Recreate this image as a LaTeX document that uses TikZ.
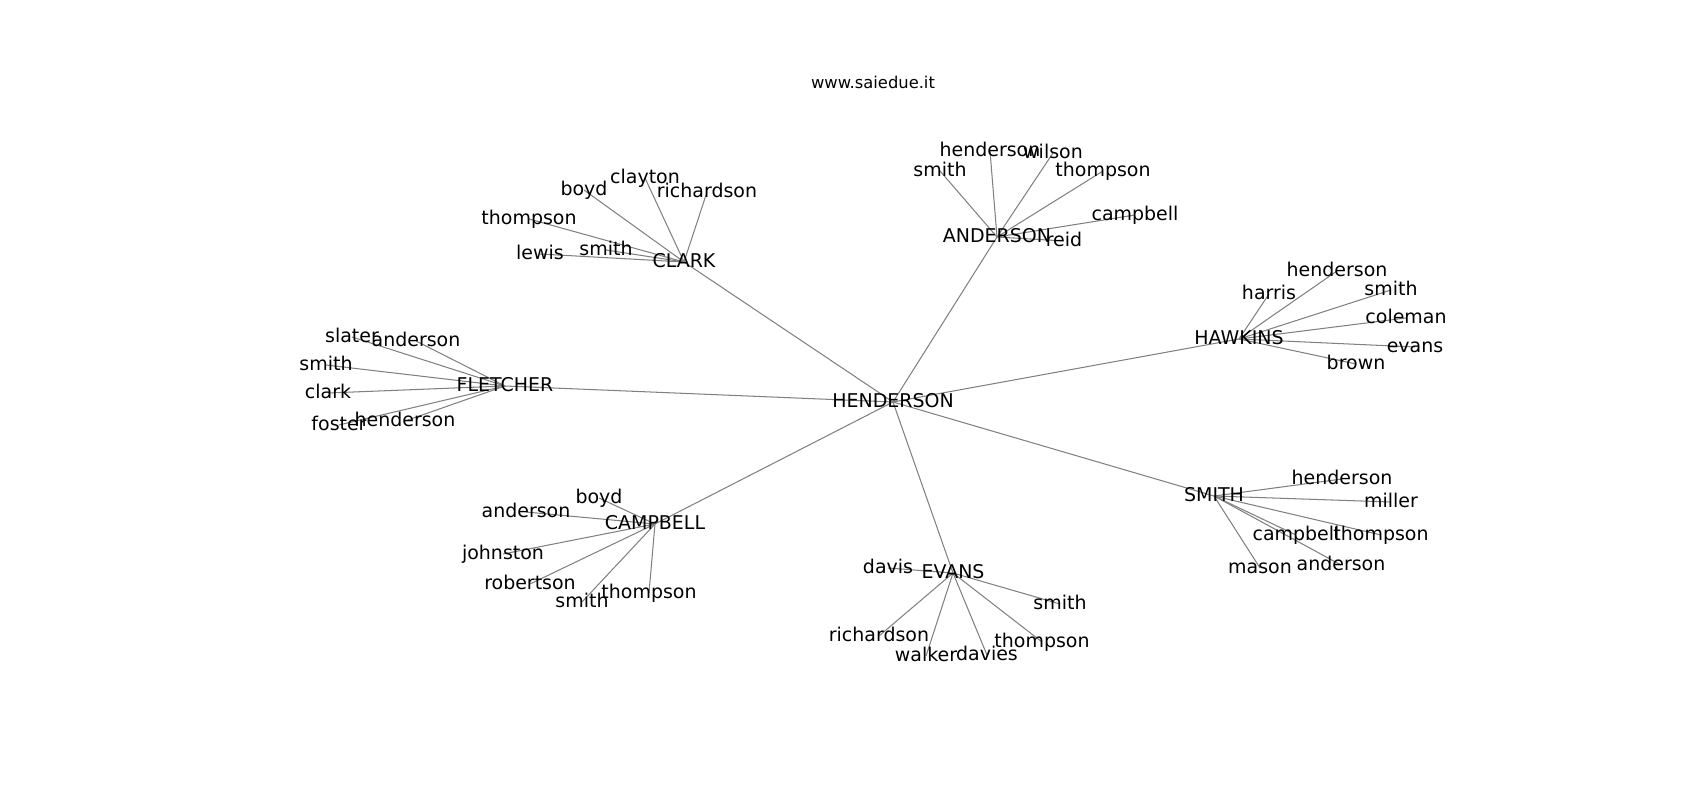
\documentclass[tikz,border=0pt]{standalone}
\usepackage{fontspec}
\setmainfont{DejaVu Sans}
\usetikzlibrary{backgrounds}
\tikzset{lbl/.style = {inner sep = 0, text height = 1.0em, text depth = 0.24em,
                       font = \fontsize{13.7}{16}\selectfont}}
\tikzset{edge/.style = {draw = gray, line width = 0.75pt}}

\begin{document}
\begin{tikzpicture}[x = 0.01in, y = -0.01in]
  \useasboundingbox (0, 0) rectangle (1700, 800);
  \node [inner sep = 0, anchor = base, font = \fontsize{11.8}{14}\selectfont] (title) at (873, 89) {www.saiedue.it};

  % hubs
  \node [lbl] (henderson) at (893, 402) {HENDERSON};
  \node [lbl] (clark) at (684, 262) {CLARK};
  \node [lbl] (anderson) at (997, 237) {ANDERSON};
  \node [lbl] (hawkins) at (1239, 339) {HAWKINS};
  \node [lbl] (fletcher) at (505, 386) {FLETCHER};
  \node [lbl] (campbell) at (655, 524) {CAMPBELL};
  \node [lbl] (evans) at (953, 573) {EVANS};
  \node [lbl] (smith) at (1214, 496) {SMITH};

  % clark
  \node [lbl] (cl-clayton) at (645, 178) {clayton};
  \node [lbl] (cl-boyd) at (584, 190) {boyd};
  \node [lbl] (cl-richardson) at (707, 192) {richardson};
  \node [lbl] (cl-thompson) at (529, 219) {thompson};
  \node [lbl] (cl-smith) at (606, 250) {smith};
  \node [lbl] (cl-lewis) at (540, 254) {lewis};

  % anderson
  \node [lbl] (an-henderson) at (990, 151) {henderson};
  \node [lbl] (an-wilson) at (1053, 153) {wilson};
  \node [lbl] (an-smith) at (940, 171) {smith};
  \node [lbl] (an-thompson) at (1103, 171) {thompson};
  \node [lbl] (an-campbell) at (1135, 215) {campbell};
  \node [lbl] (an-reid) at (1064, 241) {reid};

  % hawkins
  \node [lbl] (ha-henderson) at (1337, 271) {henderson};
  \node [lbl] (ha-harris) at (1269, 294) {harris};
  \node [lbl] (ha-smith) at (1391, 290) {smith};
  \node [lbl] (ha-coleman) at (1406, 318) {coleman};
  \node [lbl] (ha-evans) at (1415, 347) {evans};
  \node [lbl] (ha-brown) at (1356, 364) {brown};

  % fletcher
  \node [lbl] (fl-slater) at (352, 337) {slater};
  \node [lbl] (fl-anderson) at (416, 341) {anderson};
  \node [lbl] (fl-smith) at (326, 365) {smith};
  \node [lbl] (fl-clark) at (328, 393) {clark};
  \node [lbl] (fl-foster) at (339, 425) {foster};
  \node [lbl] (fl-henderson) at (405, 421) {henderson};

  % campbell
  \node [lbl] (ca-boyd) at (599, 498) {boyd};
  \node [lbl] (ca-anderson) at (526, 512) {anderson};
  \node [lbl] (ca-johnston) at (503, 554) {johnston};
  \node [lbl] (ca-robertson) at (530, 584) {robertson};
  \node [lbl] (ca-smith) at (582, 602) {smith};
  \node [lbl] (ca-thompson) at (649, 593) {thompson};

  % evans
  \node [lbl] (ev-davis) at (888, 568) {davis};
  \node [lbl] (ev-smith) at (1060, 604) {smith};
  \node [lbl] (ev-richardson) at (879, 636) {richardson};
  \node [lbl] (ev-thompson) at (1042, 642) {thompson};
  \node [lbl] (ev-walker) at (926, 656) {walker};
  \node [lbl] (ev-davies) at (987, 655) {davies};

  % smith
  \node [lbl] (sm-henderson) at (1342, 479) {henderson};
  \node [lbl] (sm-miller) at (1391, 502) {miller};
  \node [lbl] (sm-campbell) at (1296, 535) {campbell};
  \node [lbl] (sm-thompson) at (1381, 535) {thompson};
  \node [lbl] (sm-mason) at (1260, 568) {mason};
  \node [lbl] (sm-anderson) at (1341, 565) {anderson};

  \begin{pgfonlayer}{background}
    \foreach \n in {clark, anderson, hawkins, fletcher, campbell, evans, smith}
      \draw [edge] (henderson.center) -- (\n.center);
    \foreach \n in {clayton, boyd, richardson, thompson, smith, lewis}
      \draw [edge] (clark.center) -- (cl-\n.center);
    \foreach \n in {henderson, wilson, smith, thompson, campbell, reid}
      \draw [edge] (anderson.center) -- (an-\n.center);
    \foreach \n in {henderson, harris, smith, coleman, evans, brown}
      \draw [edge] (hawkins.center) -- (ha-\n.center);
    \foreach \n in {slater, anderson, smith, clark, foster, henderson}
      \draw [edge] (fletcher.center) -- (fl-\n.center);
    \foreach \n in {boyd, anderson, johnston, robertson, smith, thompson}
      \draw [edge] (campbell.center) -- (ca-\n.center);
    \foreach \n in {davis, smith, richardson, thompson, walker, davies}
      \draw [edge] (evans.center) -- (ev-\n.center);
    \foreach \n in {henderson, miller, campbell, thompson, mason, anderson}
      \draw [edge] (smith.center) -- (sm-\n.center);
  \end{pgfonlayer}
\end{tikzpicture}
\end{document}
